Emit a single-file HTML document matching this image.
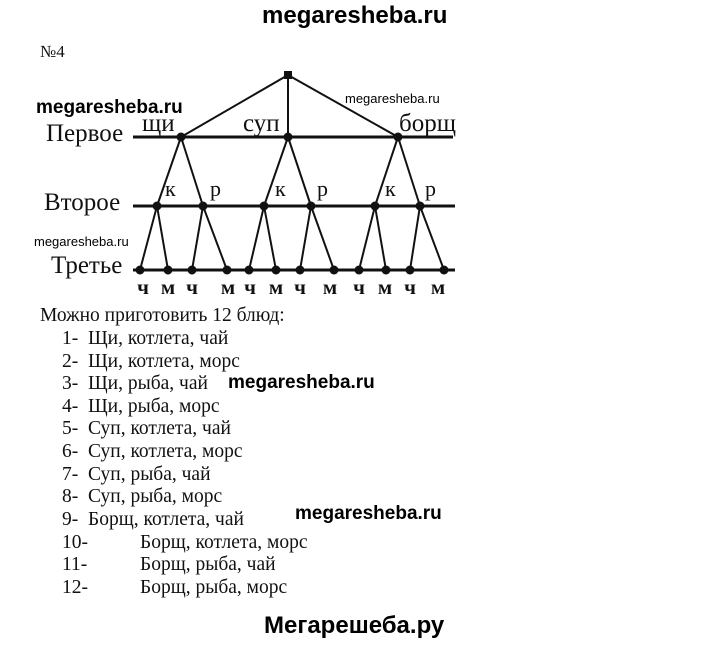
<!DOCTYPE html>
<html><head><meta charset="utf-8"><style>
body{margin:0;background:#fff;width:720px;height:645px;position:relative;overflow:hidden}
.t{position:absolute;font-family:"Liberation Serif",serif;font-size:19.5px;color:#111;white-space:nowrap}
.w{position:absolute;font-family:"Liberation Sans",sans-serif;font-weight:bold;color:#000;white-space:nowrap}
.s{position:absolute;font-family:"Liberation Sans",sans-serif;font-size:13px;color:#000;white-space:nowrap}
</style></head><body>
<div class="w" style="left:262px;top:2px;font-size:24px">megaresheba.ru</div>
<div class="t" style="left:40px;top:42px;font-size:17px">№4</div>
<div class="w" style="left:36px;top:97px;font-size:19px">megaresheba.ru</div>
<div class="s" style="left:345px;top:91px">megaresheba.ru</div>
<div class="s" style="left:34px;top:234px">megaresheba.ru</div>
<svg width="720" height="645" style="position:absolute;left:0;top:0" font-family="Liberation Serif,serif" fill="#111">
<g stroke="#111" stroke-width="3">
<line x1="133" y1="137" x2="453" y2="137"/><line x1="133" y1="206" x2="455" y2="206"/><line x1="133" y1="270" x2="455" y2="270"/>
</g>
<g stroke="#111" stroke-width="2">
<line x1="288" y1="75" x2="181" y2="137"/><line x1="288" y1="75" x2="288" y2="137"/><line x1="288" y1="75" x2="398" y2="137"/>
<line x1="181" y1="137" x2="157" y2="206"/><line x1="181" y1="137" x2="203" y2="206"/>
<line x1="288" y1="137" x2="264" y2="206"/><line x1="288" y1="137" x2="311" y2="206"/>
<line x1="398" y1="137" x2="375" y2="206"/><line x1="398" y1="137" x2="420" y2="206"/>
<line x1="157" y1="206" x2="140" y2="270"/><line x1="157" y1="206" x2="168" y2="270"/>
<line x1="203" y1="206" x2="192" y2="270"/><line x1="203" y1="206" x2="227" y2="270"/>
<line x1="264" y1="206" x2="249" y2="270"/><line x1="264" y1="206" x2="276" y2="270"/>
<line x1="311" y1="206" x2="300" y2="270"/><line x1="311" y1="206" x2="334" y2="270"/>
<line x1="375" y1="206" x2="359" y2="270"/><line x1="375" y1="206" x2="386" y2="270"/>
<line x1="420" y1="206" x2="410" y2="270"/><line x1="420" y1="206" x2="444" y2="270"/>
</g>
<rect x="284" y="71" width="8" height="8"/>
<g>
<circle cx="181" cy="137" r="4.5"/><circle cx="288" cy="137" r="4.5"/><circle cx="398" cy="137" r="4.5"/>
<circle cx="157" cy="206" r="4.5"/><circle cx="203" cy="206" r="4.5"/><circle cx="264" cy="206" r="4.5"/><circle cx="311" cy="206" r="4.5"/><circle cx="375" cy="206" r="4.5"/><circle cx="420" cy="206" r="4.5"/>
<circle cx="140" cy="270" r="4.5"/><circle cx="168" cy="270" r="4.5"/><circle cx="192" cy="270" r="4.5"/><circle cx="227" cy="270" r="4.5"/><circle cx="249" cy="270" r="4.5"/><circle cx="276" cy="270" r="4.5"/><circle cx="300" cy="270" r="4.5"/><circle cx="334" cy="270" r="4.5"/><circle cx="359" cy="270" r="4.5"/><circle cx="386" cy="270" r="4.5"/><circle cx="410" cy="270" r="4.5"/><circle cx="444" cy="270" r="4.5"/>
</g>
<g font-size="25">
<text x="46" y="141">Первое</text><text x="44" y="210">Второе</text><text x="51" y="273">Третье</text>
<text x="142" y="131">щи</text><text x="243" y="131">суп</text><text x="399" y="131">борщ</text>
</g>
<g font-size="22">
<text x="165" y="196">к</text><text x="210" y="196">р</text><text x="275" y="196">к</text><text x="317" y="196">р</text><text x="385" y="196">к</text><text x="425" y="196">р</text>
</g>
<g font-size="21" font-weight="bold" text-anchor="middle">
<text x="143" y="294">ч</text><text x="168" y="294">м</text><text x="192" y="294">ч</text><text x="228" y="294">м</text><text x="250" y="294">ч</text><text x="276" y="294">м</text><text x="300" y="294">ч</text><text x="330" y="294">м</text><text x="359" y="294">ч</text><text x="385" y="294">м</text><text x="410" y="294">ч</text><text x="438" y="294">м</text>
</g>
</svg>
<div class="t" style="left:40px;top:305px">Можно приготовить 12 блюд:</div>
<div class="t" style="left:62px;top:328px">1-&nbsp; Щи, котлета, чай</div>
<div class="t" style="left:62px;top:351px">2-&nbsp; Щи, котлета, морс</div>
<div class="t" style="left:62px;top:373px">3-&nbsp; Щи, рыба, чай</div>
<div class="t" style="left:62px;top:396px">4-&nbsp; Щи, рыба, морс</div>
<div class="t" style="left:62px;top:418px">5-&nbsp; Суп, котлета, чай</div>
<div class="t" style="left:62px;top:441px">6-&nbsp; Суп, котлета, морс</div>
<div class="t" style="left:62px;top:464px">7-&nbsp; Суп, рыба, чай</div>
<div class="t" style="left:62px;top:486px">8-&nbsp; Суп, рыба, морс</div>
<div class="t" style="left:62px;top:509px">9-&nbsp; Борщ, котлета, чай</div>
<div class="t" style="left:62px;top:532px">10-</div><div class="t" style="left:140px;top:532px">Борщ, котлета, морс</div>
<div class="t" style="left:62px;top:554px">11-</div><div class="t" style="left:140px;top:554px">Борщ, рыба, чай</div>
<div class="t" style="left:62px;top:577px">12-</div><div class="t" style="left:140px;top:577px">Борщ, рыба, морс</div>
<div class="w" style="left:228px;top:372px;font-size:19px">megaresheba.ru</div>
<div class="w" style="left:295px;top:503px;font-size:19px">megaresheba.ru</div>
<div class="w" style="left:264px;top:612px;font-size:24px">Мегарешеба.ру</div>
</body></html>
